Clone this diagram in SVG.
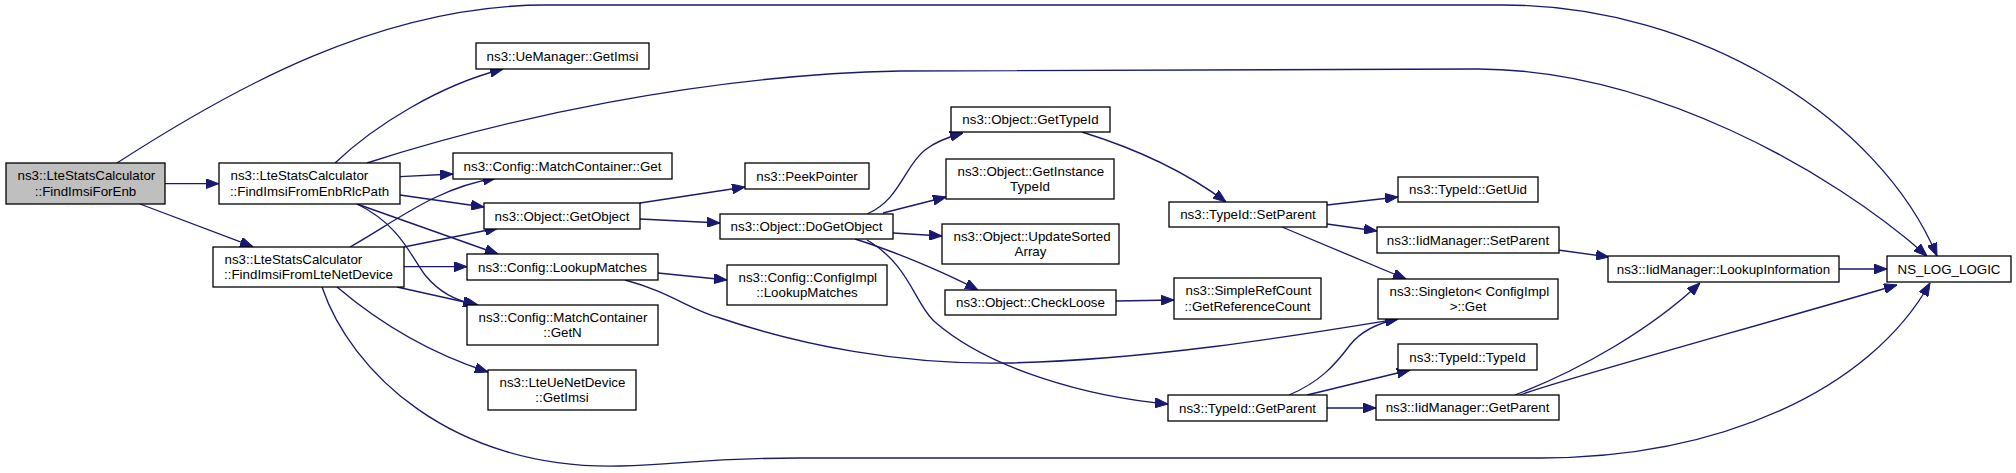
<svg xmlns="http://www.w3.org/2000/svg" width="2016" height="473" viewBox="0 0 2016 473">
<style>
.n rect{fill:#ffffff;stroke:#000000;stroke-width:1.3}
.root rect{fill:#bfbfbf}
.n text{font-family:"Liberation Sans",Arial,sans-serif;font-size:13.33px;fill:#000000}
.m{text-anchor:middle}
.s{text-anchor:start}
.e path{fill:none;stroke:#191970;stroke-width:1.33;marker-end:url(#ah)}
</style>
<defs>
<marker id="ah" viewBox="0 0 13 10" refX="13" refY="5" markerWidth="13" markerHeight="10" markerUnits="userSpaceOnUse" orient="auto">
<path d="M0,0 L13,5 L0,10 z" fill="#191970" stroke="#191970" stroke-width="1"/>
</marker>
</defs>
<rect width="2016" height="473" fill="#ffffff"/>
<g id="edges" class="e">
<path d="M165,183.7 L218.7,183.7"/>
<path d="M140,204 L253,246.7"/>
<path d="M117,163 C230,90 380,5 546,5 L1503,5 C1700,5 1880,120 1937,256"/>
<path d="M335,163 C375,125 440,85 503,69"/>
<path d="M400,176.7 L453,174"/>
<path d="M400,195 L484,207"/>
<path d="M357,204 L498,254"/>
<path d="M357,204 C400,225 410,255 425,275 C440,293 455,300 476,305"/>
<path d="M367,163 C500,120 700,75 900,71 L1477,69 C1650,69 1830,170 1927,256"/>
<path d="M350,247 C395,222 435,188 496,178"/>
<path d="M404,247 L498,228"/>
<path d="M404,266.7 L467,266.7"/>
<path d="M397,287 L478,305"/>
<path d="M337,287 C370,315 420,350 488,372"/>
<path d="M322,287 C350,370 450,470 620,466 C680,465 700,458 800,458 L1540,458 C1720,458 1870,390 1930,283"/>
<path d="M640,203 L745,187"/>
<path d="M640,219 L720,223"/>
<path d="M658,273 L727,280"/>
<path d="M625,280 C670,292 690,310 720,318 C800,345 900,365 1007,363 C1150,360 1300,335 1398,319"/>
<path d="M867,214 C900,200 905,165 925,150 C935,142 948,137 963,133"/>
<path d="M883,213 L946,197"/>
<path d="M893,233 L942,236"/>
<path d="M855,239 C890,250 940,270 978,290"/>
<path d="M867,240 C910,265 915,305 935,322 C990,370 1090,397 1168,404"/>
<path d="M1082,132 C1140,150 1190,175 1226,202"/>
<path d="M1116,301 L1174,300"/>
<path d="M1327,205 L1398,197"/>
<path d="M1327,224 L1377,231"/>
<path d="M1282,227 L1406,279"/>
<path d="M1558,250 L1609,257"/>
<path d="M1839,269 L1887,269"/>
<path d="M1289,395 C1320,382 1335,365 1350,345 C1362,330 1378,323 1398,319"/>
<path d="M1307,395 L1410,370"/>
<path d="M1327,408 L1376,408"/>
<path d="M1515,395 C1580,370 1650,330 1700,283"/>
<path d="M1520,395 C1560,380 1750,328 1897,285"/>
</g>
<g id="n_FindImsiForEnb" class="n root"><rect x="6" y="163" width="159" height="41"/><text class="s" x="17.5" y="180">ns3::LteStatsCalculator</text><text class="m" x="85.5" y="196">::FindImsiForEnb</text></g>
<g id="n_FindImsiFromEnbRlcPath" class="n"><rect x="219" y="163" width="181" height="41"/><text class="s" x="230.5" y="180">ns3::LteStatsCalculator</text><text class="m" x="309.5" y="196">::FindImsiFromEnbRlcPath</text></g>
<g id="n_FindImsiFromLteNetDevice" class="n"><rect x="213" y="247" width="191" height="40"/><text class="s" x="224.5" y="264">ns3::LteStatsCalculator</text><text class="m" x="308.5" y="279">::FindImsiFromLteNetDevice</text></g>
<g id="n_UeManagerGetImsi" class="n"><rect x="476" y="43" width="173" height="26"/><text class="m" x="562.5" y="60.5">ns3::UeManager::GetImsi</text></g>
<g id="n_MatchContainerGet" class="n"><rect x="453" y="153" width="219" height="26"/><text class="m" x="562.5" y="170.5">ns3::Config::MatchContainer::Get</text></g>
<g id="n_GetObject" class="n"><rect x="484" y="203" width="156" height="26"/><text class="m" x="562" y="220.5">ns3::Object::GetObject</text></g>
<g id="n_LookupMatches" class="n"><rect x="467" y="254" width="191" height="26"/><text class="m" x="562.5" y="271.5">ns3::Config::LookupMatches</text></g>
<g id="n_GetN" class="n"><rect x="467" y="305" width="191" height="40"/><text class="s" x="478.5" y="322">ns3::Config::MatchContainer</text><text class="m" x="562.5" y="337">::GetN</text></g>
<g id="n_LteUeNetDeviceGetImsi" class="n"><rect x="488" y="370" width="148" height="40"/><text class="s" x="499.5" y="387">ns3::LteUeNetDevice</text><text class="m" x="562" y="402">::GetImsi</text></g>
<g id="n_PeekPointer" class="n"><rect x="745" y="163" width="124" height="26"/><text class="m" x="807" y="180.5">ns3::PeekPointer</text></g>
<g id="n_DoGetObject" class="n"><rect x="720" y="214" width="173" height="25"/><text class="m" x="806.5" y="231">ns3::Object::DoGetObject</text></g>
<g id="n_ConfigImplLookupMatches" class="n"><rect x="727" y="265" width="160" height="40"/><text class="s" x="738.5" y="282">ns3::Config::ConfigImpl</text><text class="m" x="807" y="297">::LookupMatches</text></g>
<g id="n_GetTypeId" class="n"><rect x="951" y="107" width="159" height="25"/><text class="m" x="1030.5" y="124">ns3::Object::GetTypeId</text></g>
<g id="n_GetInstanceTypeId" class="n"><rect x="946" y="159" width="168" height="40"/><text class="s" x="957.5" y="176">ns3::Object::GetInstance</text><text class="m" x="1030" y="191">TypeId</text></g>
<g id="n_UpdateSortedArray" class="n"><rect x="942" y="224" width="177" height="40"/><text class="s" x="953.5" y="241">ns3::Object::UpdateSorted</text><text class="m" x="1030.5" y="256">Array</text></g>
<g id="n_CheckLoose" class="n"><rect x="945" y="290" width="171" height="25"/><text class="m" x="1030.5" y="307">ns3::Object::CheckLoose</text></g>
<g id="n_GetReferenceCount" class="n"><rect x="1174" y="278" width="147" height="41"/><text class="s" x="1185.5" y="295">ns3::SimpleRefCount</text><text class="m" x="1247.5" y="311">::GetReferenceCount</text></g>
<g id="n_TypeIdSetParent" class="n"><rect x="1169" y="202" width="158" height="25"/><text class="m" x="1248" y="219">ns3::TypeId::SetParent</text></g>
<g id="n_TypeIdGetParent" class="n"><rect x="1168" y="395" width="159" height="26"/><text class="m" x="1247.5" y="412.5">ns3::TypeId::GetParent</text></g>
<g id="n_TypeIdGetUid" class="n"><rect x="1398" y="177" width="140" height="25"/><text class="m" x="1468" y="194">ns3::TypeId::GetUid</text></g>
<g id="n_IidManagerSetParent" class="n"><rect x="1377" y="227" width="182" height="26"/><text class="m" x="1468" y="244.5">ns3::IidManager::SetParent</text></g>
<g id="n_SingletonGet" class="n"><rect x="1378" y="279" width="180" height="40"/><text class="s" x="1389.5" y="296">ns3::Singleton&lt; ConfigImpl</text><text class="m" x="1468" y="311">&gt;::Get</text></g>
<g id="n_TypeIdTypeId" class="n"><rect x="1398" y="344" width="139" height="26"/><text class="m" x="1467.5" y="361.5">ns3::TypeId::TypeId</text></g>
<g id="n_IidManagerGetParent" class="n"><rect x="1376" y="395" width="183" height="25"/><text class="m" x="1467.5" y="412">ns3::IidManager::GetParent</text></g>
<g id="n_LookupInformation" class="n"><rect x="1608" y="256" width="231" height="26"/><text class="m" x="1723.5" y="273.5">ns3::IidManager::LookupInformation</text></g>
<g id="n_NS_LOG_LOGIC" class="n"><rect x="1887" y="256" width="124" height="26"/><text class="m" x="1949" y="273.5">NS_LOG_LOGIC</text></g>
</svg>
